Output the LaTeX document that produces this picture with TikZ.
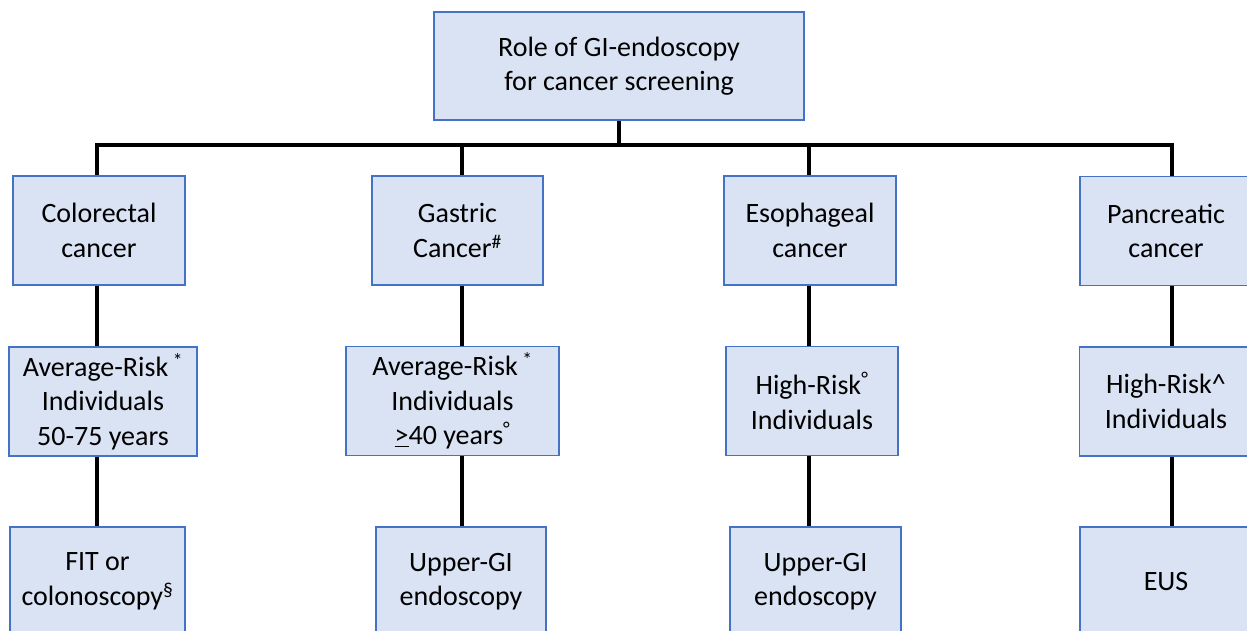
\documentclass[tikz,border=0pt]{standalone}
\usepackage{fontspec}
\setmainfont{Carlito}
\definecolor{boxfill}{HTML}{DAE3F3}
\definecolor{boxline}{HTML}{4472C4}
\begin{document}
\begin{tikzpicture}[x=1pt,y=-1pt,
  box/.style={draw=boxline, line width=1.3pt, fill=boxfill, align=center, inner sep=0pt,
    font=\fontsize{28}{34.5}\selectfont, minimum height=109pt},
  conn/.style={line width=4pt, black}]
\clip (0,0) rectangle (1247,630);
\fill[white] (0,0) rectangle (1247,630);
% top
\node[box, minimum width=370pt, minimum height=108pt] (top) at (619,66) {Role of GI-endoscopy\\for cancer screening};
% row 1
\node[box, minimum width=172pt] (c1) at (99,230.5) {Colorectal\\cancer};
\node[box, minimum width=171pt] (c2) at (457.5,230.5) {Gastric\\Cancer\textsuperscript{\#}};
\node[box, minimum width=172pt] (c3) at (810,230.5) {Esophageal\\cancer};
\node[box, minimum width=172pt] (c4) at (1166,231) {Pancreatic\\cancer};
% row 2
\node[box, minimum width=188pt] (a1) at (103,401.5) {Average-Risk\,\textsuperscript{*}\\Individuals\\50-75 years};
\node[box, minimum width=213pt] (a2) at (452.5,401) {Average-Risk\,\textsuperscript{*}\\Individuals\\\underline{>}40 years\textsuperscript{°}};
\node[box, minimum width=172pt] (a3) at (812,401) {High-Risk\textsuperscript{°}\\Individuals};
\node[box, minimum width=173pt] (a4) at (1166,401.5) {High-Risk\textasciicircum\\Individuals};
% row 3
\node[box, minimum width=175pt] (f1) at (97.5,581.5) {FIT or\\colonoscopy\textsuperscript{§}};
\node[box, minimum width=170pt] (f2) at (461,581.5) {Upper-GI\\endoscopy};
\node[box, minimum width=171pt] (f3) at (815.5,581.5) {Upper-GI\\endoscopy};
\node[box, minimum width=172pt] (f4) at (1166,581.5) {EUS};
% bus
\coordinate (bL) at (95,145);
\coordinate (bR) at (1174,145);
\coordinate (bt) at (619,145);
\coordinate (b1) at (97,145);
\coordinate (b2) at (462,145);
\coordinate (b3) at (809,145);
\coordinate (b4) at (1172,145);
\draw[conn] (bL) -- (bR);
\draw[conn] (top.south) -- (bt);
\foreach \i in {1,2,3,4}{
  \draw[conn] (b\i) -- (c\i.north -| b\i);
  \draw[conn] (c\i.south -| b\i) -- (a\i.north -| b\i);
  \draw[conn] (a\i.south -| b\i) -- (f\i.north -| b\i);
}
\end{tikzpicture}
\end{document}
